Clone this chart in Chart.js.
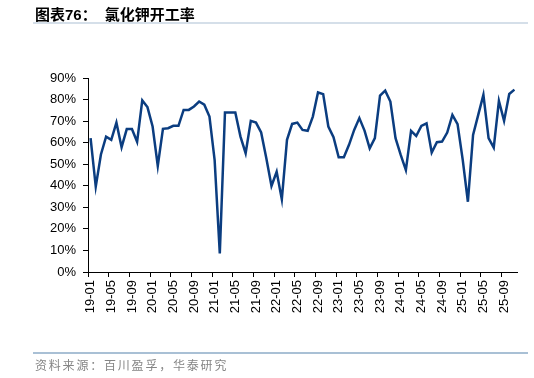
<!DOCTYPE html>
<html>
<head>
<meta charset="utf-8">
<script src="https://cdn.jsdelivr.net/npm/chart.js@4"></script>
<style>
  html, body { margin: 0; padding: 0; background: #fff; }
  #wrap { position: relative; width: 534px; height: 378px; overflow: hidden; }
  #c { position: absolute; left: 0; top: 0; }
  #title { position: absolute; left: 35px; top: 4px; font-family: "Noto Sans CJK SC", sans-serif; font-weight: bold; font-size: 15px; color: #000; white-space: nowrap; line-height: 20px; }
  #title .num { font-family: "Liberation Sans", Arial, sans-serif; }
  #title .sub { margin-left: 8px; }
  .rule { position: absolute; left: 33px; width: 495px; height: 2px; }
  #rule1 { top: 22px; background: #d5dfe9; }
  #rule2 { top: 352px; background: #a9c0d5; }
  #source { position: absolute; left: 35px; top: 356px; font-family: "Noto Sans CJK SC", sans-serif; font-size: 12px; color: #858585; letter-spacing: 1.8px; white-space: nowrap; line-height: 18px; }
</style>
</head>
<body>
<div id="wrap">
  <canvas id="c" width="534" height="378"></canvas>
  <div id="title">图表<span class="num">76</span>：<span class="sub">氯化钾开工率</span></div>
  <div class="rule" id="rule1"></div>
  <div class="rule" id="rule2"></div>
  <div id="source">资料来源：百川盈孚，华泰研究</div>
</div>
<script>
// Monthly categories 2019-01 .. 2025-11
const categories = [];
for (let y = 19; y <= 25; y++) {
  for (let m = 1; m <= 12; m++) {
    if (y === 25 && m > 11) break;
    categories.push(y + '-' + (m < 10 ? '0' + m : '' + m));
  }
}
// 氯化钾开工率 (%)
const utilization = [
  62.1, 39.6, 54.5, 62.8, 61.3, 69.3, 57.9, 66.3, 66.3, 60.4, 79.6, 76.5,
  67.5, 49.2, 66.4, 66.7, 67.8, 67.8, 75.2, 75.2, 76.8, 79.1, 77.6, 72.1,
  51.9, 8.6, 74.0, 74.0, 74.0, 62.8, 55.1, 70.1, 69.3, 64.7, 52.8, 39.9,
  46.5, 33.7, 61.3, 68.7, 69.3, 65.9, 65.5, 72.1, 83.3, 82.5, 67.5, 62.5,
  53.2, 53.2, 59.0, 65.9, 71.4, 65.6, 57.4, 62.1, 81.8, 84.1, 79.1, 62.1,
  54.3, 47.3, 65.5, 63.1, 67.8, 69.0, 55.4, 60.2, 60.5, 64.7, 72.9, 68.6,
  52.0, 32.6, 63.6, 72.9, 82.2, 62.1, 57.7, 79.4, 70.1, 82.6, 84.6
];
const yTicks = [0, 10, 20, 30, 40, 50, 60, 70, 80, 90];
const labelEvery = 4;

const axisColor = '#000000';
const tickFont = { family: '"Liberation Sans", Arial, sans-serif', size: 13 };

new Chart(document.getElementById('c'), {
  type: 'line',
  data: {
    labels: categories,
    datasets: [{
      data: utilization,
      borderColor: '#0b3d80',
      borderWidth: 2.5,
      pointRadius: 0,
      tension: 0,
      fill: false
    }]
  },
  options: {
    responsive: false,
    animation: false,
    devicePixelRatio: 1,
    layout: { padding: { left: 0, right: 17, top: 78, bottom: 0 } },
    plugins: { legend: { display: false }, tooltip: { enabled: false }, title: { display: false } },
    scales: {
      x: {
        type: 'category',
        offset: true,
        grid: {
          offset: true,
          drawOnChartArea: false,
          drawTicks: true,
          tickLength: 5,
          tickColor: (ctx) => (ctx.index % labelEvery === 0 ? axisColor : 'rgba(0,0,0,0)')
        },
        border: { display: true, color: axisColor, width: 1 },
        ticks: {
          autoSkip: false,
          minRotation: 90,
          maxRotation: 90,
          padding: 3,
          color: '#000',
          font: tickFont,
          callback: function (v, i) { return i % labelEvery === 0 ? categories[i] : ''; }
        },
        afterFit: (s) => { s.height = 106; }
      },
      y: {
        min: 0,
        max: 90,
        afterBuildTicks: (s) => { s.ticks = yTicks.map(v => ({ value: v })); },
        grid: { drawOnChartArea: false, drawTicks: true, tickLength: 5, tickColor: axisColor },
        border: { display: true, color: axisColor, width: 1 },
        ticks: {
          padding: 7,
          color: '#000',
          font: tickFont,
          callback: (v) => v + '%'
        },
        afterFit: (s) => { s.width = 88; }
      }
    }
  }
});
</script>
</body>
</html>
